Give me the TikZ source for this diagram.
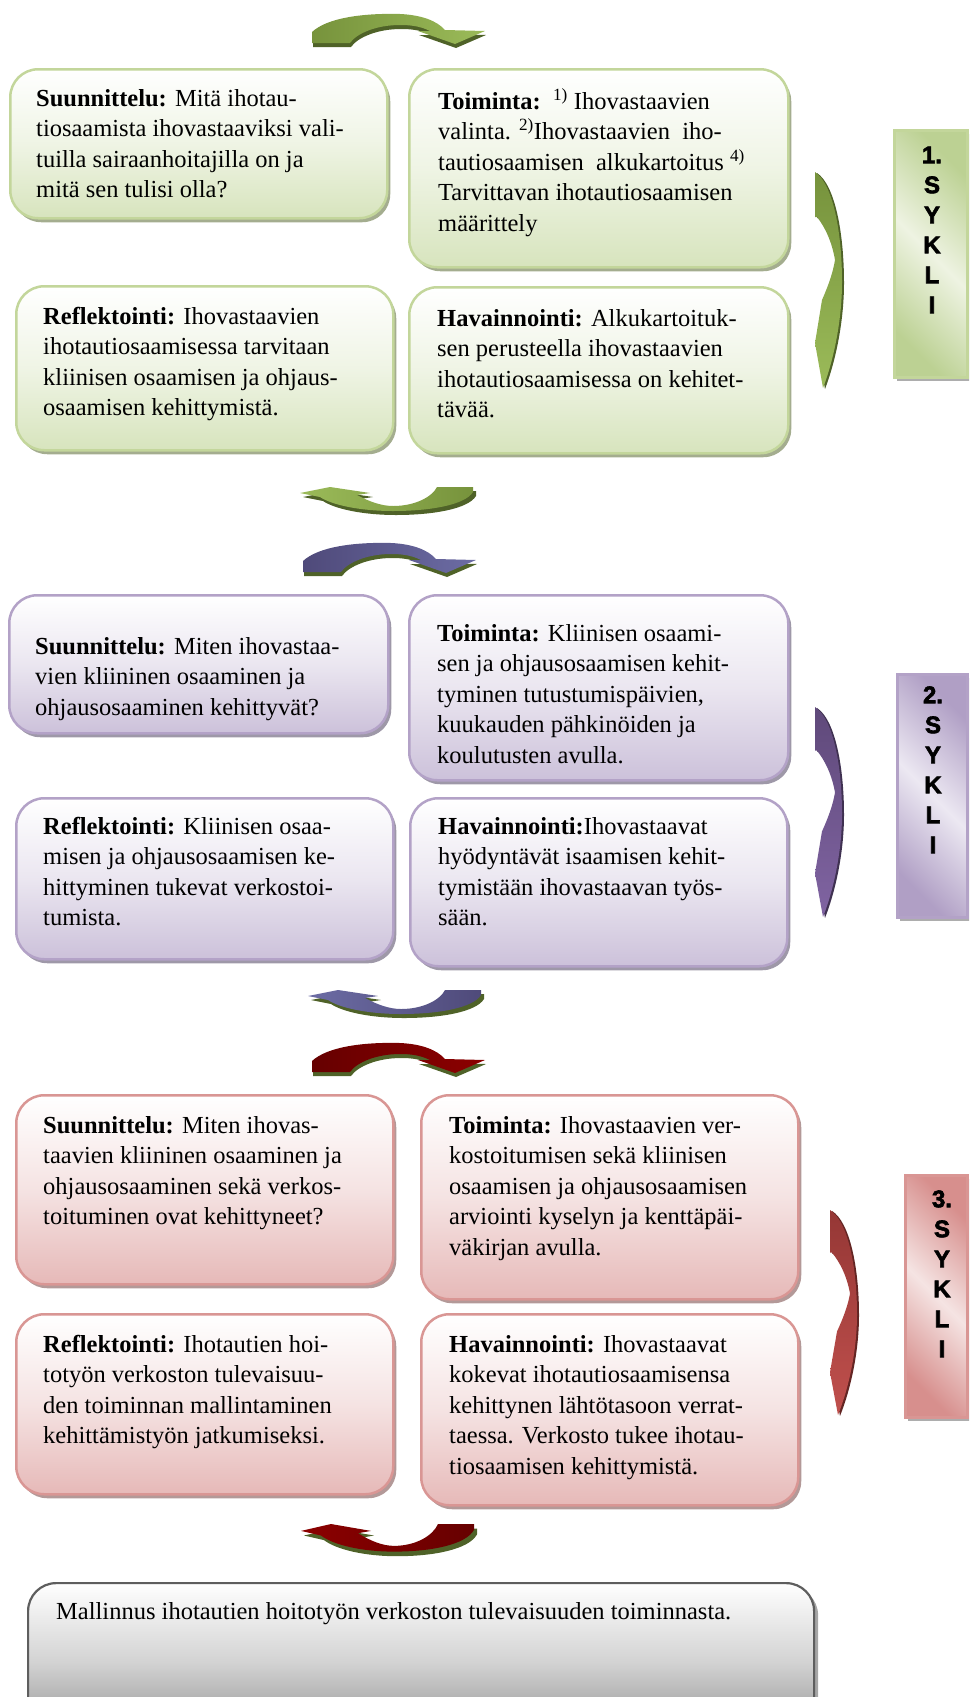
\documentclass[tikz,border=0pt]{standalone}
\usepackage{fontspec}
\setmainfont{Liberation Serif}
\setsansfont{Liberation Sans}
\newfontfamily\cyclelabelfont{Liberation Sans}[BoldFeatures={FakeBold=2.5}]
\usetikzlibrary{shadows}

% box colours
\definecolor{gEdge}{HTML}{C3D69B}
\definecolor{gFill}{HTML}{D7E4BD}
\definecolor{gShade}{HTML}{A4AD8F}
\definecolor{pEdge}{HTML}{B3A2C7}
\definecolor{pFill}{HTML}{CCC1DA}
\definecolor{pShade}{HTML}{9E98A8}
\definecolor{rEdge}{HTML}{D99694}
\definecolor{rFill}{HTML}{E6B9B8}
\definecolor{rShade}{HTML}{B39998}
\definecolor{kEdge}{HTML}{5E5E5E}
\definecolor{kMid}{HTML}{D2D2D2}
\definecolor{kFill}{HTML}{8C8C8C}
\definecolor{kShade}{HTML}{A6A6A6}
% cycle label colours
\definecolor{gLabL}{HTML}{EEF3E2}
\definecolor{gLabD}{HTML}{BCD193}
\definecolor{pLabL}{HTML}{ECE8F2}
\definecolor{pLabD}{HTML}{B09FC5}
\definecolor{rLabL}{HTML}{F5E4E3}
\definecolor{rLabD}{HTML}{D78F8D}
% arrow colours
\definecolor{arrowRim}{HTML}{4F6228}
\definecolor{gDark}{HTML}{77933C}
\definecolor{gLight}{HTML}{9BBB59}
\definecolor{pDark}{HTML}{4F4A7A}
\definecolor{pLight}{HTML}{6C6CA4}
\definecolor{rDark}{HTML}{660000}
\definecolor{rLight}{HTML}{8C0000}
\definecolor{gSideTop}{HTML}{76923C}
\definecolor{gSideBot}{HTML}{9BBB59}
\definecolor{gSideRim}{HTML}{4F6228}
\definecolor{pSideTop}{HTML}{5F497A}
\definecolor{pSideBot}{HTML}{8064A2}
\definecolor{pSideRim}{HTML}{3F3151}
\definecolor{rSideTop}{HTML}{953735}
\definecolor{rSideBot}{HTML}{C0504D}
\definecolor{rSideRim}{HTML}{632523}

% outlines of the curved arrows (local coordinates, y pointing down)
\newcommand\arcoverpath{(0,19) .. controls (15,5) and (50,0) .. (88,1)
  .. controls (110,2) and (125,8) .. (133,17) -- (173,18) -- (143,31)
  -- (106,18) -- (118,18) .. controls (108,13) and (98,12) .. (88,12)
  .. controls (65,12) and (45,20) .. (38,30) -- (0,30) -- cycle}
\newcommand\arcunderpath{(0,6) -- (30,0) -- (70,6) -- (57,8)
  .. controls (70,15) and (82,19) .. (93,19)
  .. controls (115,19) and (132,10) .. (137,0) -- (173,0) -- (173,5)
  .. controls (165,18) and (130,24) .. (93,24)
  .. controls (60,24) and (32,18) .. (20,10) -- cycle}
\newcommand\sidearcpath{(0,0) .. controls (18,12) and (27,60) .. (27,110)
  .. controls (27,150) and (18,190) .. (8,216) -- (0,171) -- (7,128)
  .. controls (14,112) and (18,100) .. (20,88)
  .. controls (17,70) and (10,55) .. (2,45) -- (0,45) -- cycle}

\tikzset{
  pics/arcover/.style 2 args={code={
    \fill[arrowRim, shift={(1,4)}] \arcoverpath;
    \shade[left color=#1, right color=#2] \arcoverpath;
  }},
  pics/arcunder/.style 2 args={code={
    \fill[arrowRim, shift={(3,4)}] \arcunderpath;
    \shade[left color=#1, right color=#2] \arcunderpath;
  }},
  pics/sidearc/.style n args={3}{code={
    \fill[#3, shift={(2,1)}] \sidearcpath;
    \shade[top color=#1, bottom color=#2] \sidearcpath;
  }},
  box/.style={line width=2.5pt, rounded corners=28pt, inner sep=0pt,
    anchor=north west},
  gbox/.style={box, draw=gEdge, top color=white, bottom color=gFill,
    middle color=gFill!40!white,
    drop shadow={shadow xshift=3pt, shadow yshift=-4pt, fill=gShade, opacity=1}},
  pbox/.style={box, draw=pEdge, top color=white, bottom color=pFill,
    middle color=pFill!40!white,
    drop shadow={shadow xshift=3pt, shadow yshift=-4pt, fill=pShade, opacity=1}},
  rbox/.style={box, draw=rEdge, top color=white, bottom color=rFill,
    middle color=rFill!40!white,
    drop shadow={shadow xshift=3pt, shadow yshift=-4pt, fill=rShade, opacity=1}},
  kbox/.style={box, draw=kEdge, line width=2.2pt, top color=white, bottom color=kFill,
    middle color=kMid,
    drop shadow={shadow xshift=4pt, shadow yshift=-4pt, fill=kShade, opacity=1}},
  labbox/.style={line width=2.5pt, inner sep=0pt, anchor=north west,
    drop shadow={shadow xshift=3pt, shadow yshift=-4pt, fill=black!32, opacity=1}},
  txt/.style={anchor=north west, inner sep=0pt, align=left, yshift=21.35pt,
    font=\fontsize{24.5}{30.5}\selectfont},
  labtxt/.style={anchor=north, inner sep=0pt, align=center, yshift=21pt,
    font=\cyclelabelfont\bfseries\fontsize{24}{30}\selectfont},
}

\begin{document}
\begin{tikzpicture}[x=1pt, y=-1pt]
\useasboundingbox (0,0) rectangle (969,1697);
\clip (0,0) rectangle (969,1697);

%% ---------------- cycle 1 ----------------
\pic at (312,13) {arcover={gDark}{gLight}};

\node[gbox, minimum width=377pt, minimum height=149pt] (gS) at (9,68) {};
\node[gbox, minimum width=379pt, minimum height=198pt] (gT) at (408,68) {};
\node[gbox, minimum width=377pt, minimum height=164pt] (gR) at (15,285) {};
\node[gbox, minimum width=379pt, minimum height=166pt] (gH) at (408,286) {};

\node[txt] (gStxt) at (36,106) {\strut\textbf{Suunnittelu:} Mitä ihotau-\\
  tiosaamista ihovastaaviksi vali-\\ tuilla sairaanhoitajilla on ja\\
  mitä sen tulisi olla?};
\node[txt] (gTtxt) at (438,109) {\strut\textbf{Toiminta:}\ \ \textsuperscript{1)} Ihovastaavien\\
  valinta. \textsuperscript{2)}Ihovastaavien\ \ iho-\\
  tautiosaamisen\ \ alkukartoitus \textsuperscript{4)}\\
  Tarvittavan ihotautiosaamisen\\ määrittely};
\node[txt] (gRtxt) at (43,324) {\strut\textbf{Reflektointi:} Ihovastaavien\\
  ihotautiosaamisessa tarvitaan\\ kliinisen osaamisen ja ohjaus-\\
  osaamisen kehittymistä.};
\node[txt] (gHtxt) at (437,326) {\strut\textbf{Havainnointi:} Alkukartoituk-\\
  sen perusteella ihovastaavien\\ ihotautiosaamisessa on kehitet-\\ tävää.};

\pic at (815,172) {sidearc={gSideTop}{gSideBot}{gSideRim}};
\node[labbox, draw=gEdge, left color=gLabD, right color=gLabD, middle color=gLabL,
  shading angle=135, minimum width=73pt, minimum height=247pt] (c1) at (893,129) {};
\node[labtxt] (c1txt) at (932,163) {\strut 1.\\ S\\ Y\\ K\\ L\\ I};

\pic at (300,487) {arcunder={gLight}{gDark}};

%% ---------------- cycle 2 ----------------
\pic at (303,542) {arcover={pDark}{pLight}};

\node[pbox, minimum width=379pt, minimum height=138pt] (pS) at (8,594) {};
\node[pbox, minimum width=379pt, minimum height=185pt] (pT) at (408,594) {};
\node[pbox, minimum width=377pt, minimum height=161pt] (pR) at (15,797) {};
\node[pbox, minimum width=377pt, minimum height=168pt] (pH) at (409,797) {};

\node[txt] (pStxt) at (35,654) {\strut\textbf{Suunnittelu:} Miten ihovastaa-\\
  vien kliininen osaaminen ja\\ ohjausosaaminen kehittyvät?};
\node[txt] (pTtxt) at (437,641) {\strut\textbf{Toiminta:} Kliinisen osaami-\\
  sen ja ohjausosaamisen kehit-\\ tyminen tutustumispäivien,\\
  kuukauden pähkinöiden ja\\ koulutusten avulla.};
\node[txt] (pRtxt) at (43,834) {\strut\textbf{Reflektointi:} Kliinisen osaa-\\
  misen ja ohjausosaamisen ke-\\ hittyminen tukevat verkostoi-\\ tumista.};
\node[txt] (pHtxt) at (438,834) {\strut\textbf{Havainnointi:}Ihovastaavat\\
  hyödyntävät isaamisen kehit-\\ tymistään ihovastaavan työs-\\ sään.};

\pic[yscale=0.972] at (815,707) {sidearc={pSideTop}{pSideBot}{pSideRim}};
\node[labbox, draw=pEdge, left color=pLabD, right color=pLabD, middle color=pLabL,
  shading angle=135, minimum width=70pt, minimum height=243pt] (c2) at (896,673) {};
\node[labtxt] (c2txt) at (933,703) {\strut 2.\\ S\\ Y\\ K\\ L\\ I};

\pic at (308,990) {arcunder={pLight}{pDark}};

%% ---------------- cycle 3 ----------------
\pic at (312,1042) {arcover={rDark}{rLight}};

\node[rbox, minimum width=377pt, minimum height=189pt] (rS) at (15,1094) {};
\node[rbox, minimum width=377pt, minimum height=204pt] (rT) at (420,1094) {};
\node[rbox, minimum width=377pt, minimum height=180pt] (rR) at (15,1313) {};
\node[rbox, minimum width=377pt, minimum height=191pt] (rH) at (420,1313) {};

\node[txt] (rStxt) at (43,1133) {\strut\textbf{Suunnittelu:} Miten ihovas-\\
  taavien kliininen osaaminen ja\\ ohjausosaaminen sekä verkos-\\
  toituminen ovat kehittyneet?};
\node[txt] (rTtxt) at (449,1133) {\strut\textbf{Toiminta:} Ihovastaavien ver-\\
  kostoitumisen sekä kliinisen\\ osaamisen ja ohjausosaamisen\\
  arviointi kyselyn ja kenttäpäi-\\ väkirjan avulla.};
\node[txt] (rRtxt) at (43,1352) {\strut\textbf{Reflektointi:} Ihotautien hoi-\\
  totyön verkoston tulevaisuu-\\ den toiminnan mallintaminen\\
  kehittämistyön jatkumiseksi.};
\node[txt] (rHtxt) at (449,1352) {\strut\textbf{Havainnointi:} Ihovastaavat\\
  kokevat ihotautiosaamisensa\\ kehittynen lähtötasoon verrat-\\
  taessa. Verkosto tukee ihotau-\\ tiosaamisen kehittymistä.};

\pic[yscale=0.949] at (830,1210) {sidearc={rSideTop}{rSideBot}{rSideRim}};
\node[labbox, draw=rEdge, left color=rLabD, right color=rLabD, middle color=rLabL,
  shading angle=135, minimum width=62pt, minimum height=242pt] (c3) at (904,1174) {};
\node[labtxt] (c3txt) at (942,1207) {\strut 3.\\ S\\ Y\\ K\\ L\\ I};

\pic[yscale=1.15] at (301,1524) {arcunder={rLight}{rDark}};

%% ---------------- outcome ----------------
\node[kbox, minimum width=786pt, minimum height=160pt] (fin) at (27,1582) {};
\node[txt] (fintxt) at (56,1619) {\strut Mallinnus ihotautien hoitotyön verkoston tulevaisuuden toiminnasta.};
\end{tikzpicture}
\end{document}
